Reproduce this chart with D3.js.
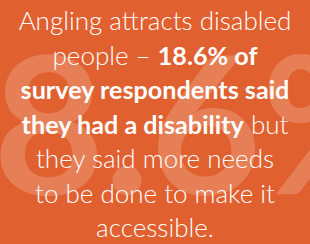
<!DOCTYPE html>
<meta charset="utf-8">
<style>
body { margin: 0; background: #e1602f; }
svg { display: block; }
.bg-num { font-family: Lato, "Open Sans", sans-serif; font-weight: 700; fill: #fff; fill-opacity: 0.19; }
.copy { font-family: Lato, "Open Sans", sans-serif; fill: #fff; }
.copy .light { font-weight: 300; font-size: 26px; }
.copy .bold { font-weight: 700; font-size: 25.2px; }
</style>
<body>
<script src="https://d3js.org/d3.v7.min.js"></script>
<script>
var width = 310, height = 244;

// big background figure
var bigFigure = "18.6%";

// copy lines, each a list of [text, bold?]
var lines = [
  [["Angling attracts disabled", false]],
  [["people \u2013 ", false], ["18.6% of", true]],
  [["survey respondents said", true]],
  [["they had a disability", true], [" but", false]],
  [["they said more needs", false]],
  [["to be done to make it", false]],
  [["accessible.", false]]
];

var svg = d3.select("body").append("svg")
    .attr("width", width)
    .attr("height", height);

svg.append("rect")
    .attr("width", width)
    .attr("height", height)
    .attr("fill", "#e1602f");

// background number, "1" pushed off the left edge
var big = svg.append("text")
    .attr("class", "bg-num")
    .attr("font-size", 192)
    .attr("y", 194)
    .text(bigFigure);
var oneW = big.node().getSubStringLength(0, 1);
big.attr("x", -oneW - 7);

var y = d3.scalePoint()
    .domain(d3.range(lines.length))
    .range([30, 237]);

var copy = svg.append("g").attr("class", "copy");

copy.selectAll("text")
    .data(lines)
  .enter().append("text")
    .attr("x", width / 2)
    .attr("y", function(d, i) { return y(i); })
    .attr("text-anchor", "middle")
  .selectAll("tspan")
    .data(function(d) { return d; })
  .enter().append("tspan")
    .attr("class", function(d) { return d[1] ? "bold" : "light"; })
    .text(function(d) { return d[0]; });
</script>
